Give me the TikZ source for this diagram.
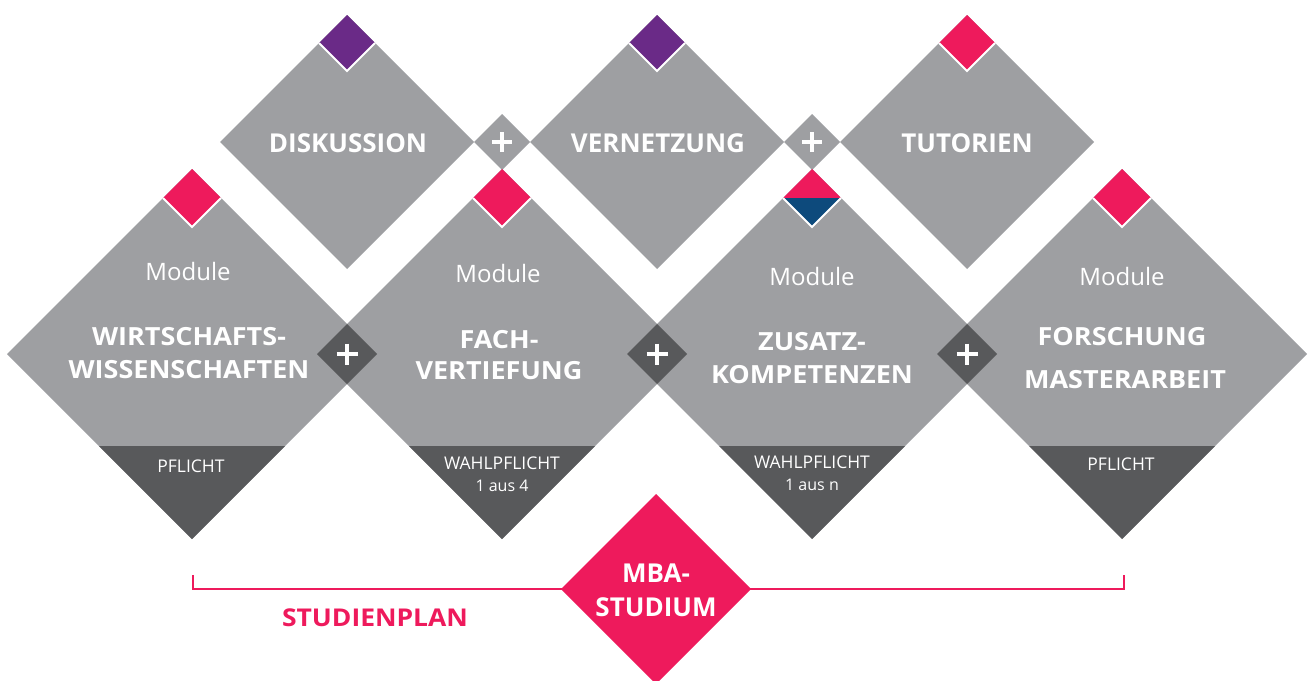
\documentclass[tikz,border=0pt]{standalone}
\usepackage{fontspec}
\setmainfont{Open Sans}
\newfontfamily\widesans[FakeStretch=1.08]{Open Sans}
\definecolor{dgray}{HTML}{9E9FA2}
\definecolor{ddark}{HTML}{58595B}
\definecolor{dpink}{HTML}{EE1A5C}
\definecolor{dpurple}{HTML}{6A2A87}
\definecolor{dblue}{HTML}{0D4A7C}
\tikzset{
  title/.style={text=white, font=\widesans\bfseries\fontsize{25}{25}\selectfont, anchor=base, inner sep=0pt},
  toptitle/.style={text=white, font=\bfseries\fontsize{26}{26}\selectfont, anchor=base, inner sep=0pt},
  modlabel/.style={text=white, font=\fontsize{24}{24}\selectfont, anchor=base, inner sep=0pt},
  kind/.style={text=white, font=\fontsize{17.5}{17.5}\selectfont, anchor=base, inner sep=0pt},
  kindsmall/.style={text=white, font=\fontsize{16}{16}\selectfont, anchor=base, inner sep=0pt},
  plussign/.style={white, line width=4.5pt},
  edgewhite/.style={white, line width=2pt},
  pinktext/.style={text=dpink, font=\widesans\bfseries\fontsize{24.5}{24.5}\selectfont, anchor=base, inner sep=0pt},
  mbatext/.style={text=white, font=\bfseries\fontsize{26}{26}\selectfont, anchor=base, inner sep=0pt},
}
\begin{document}
\begin{tikzpicture}[x=1pt,y=-1pt]
\useasboundingbox (0,0) rectangle (1308,680);
\clip (0,0) rectangle (1308,680);
% bottom row big diamonds
\foreach \c in {192,502,812,1122}{
  \fill[dgray] (\c-185,354) -- (\c,169) -- (\c+185,354) -- (\c,539) -- cycle;
  \fill[ddark] (\c-93,446) -- (\c+93,446) -- (\c,539) -- cycle;
}
% overlap plus diamonds
\foreach \c in {347,657,967}{
  \fill[ddark] (\c-30,354) -- (\c,324) -- (\c+30,354) -- (\c,384) -- cycle;
  \draw[plussign] (\c-10.5,354) -- (\c+10.5,354) (\c,343.5) -- (\c,364.5);
}
% top row diamonds
\foreach \c in {347,657,967}{
  \fill[dgray] (\c-127,142) -- (\c,15) -- (\c+127,142) -- (\c,269) -- cycle;
}
% top plus diamonds
\foreach \c in {502,812}{
  \fill[dgray] (\c-28,142) -- (\c,114) -- (\c+28,142) -- (\c,170) -- cycle;
  \draw[plussign] (\c-10,142) -- (\c+10,142) (\c,132) -- (\c,152);
}
% small diamonds on top row
\foreach \c/\col in {347/dpurple,657/dpurple,967/dpink}{
  \fill[\col] (\c-28,43) -- (\c,15) -- (\c+28,43) -- (\c,71) -- cycle;
  \draw[edgewhite] (\c-28,43) -- (\c,71) -- (\c+28,43);
}
% small diamonds on bottom row
\foreach \c in {192,502,1122}{
  \fill[dpink] (\c-29,198) -- (\c,169) -- (\c+29,198) -- (\c,227) -- cycle;
  \draw[edgewhite] (\c-29,198) -- (\c,227) -- (\c+29,198);
}
\fill[dpink] (812-29,198) -- (812,169) -- (812+29,198) -- cycle;
\fill[dblue] (812-29,198) -- (812+29,198) -- (812,227) -- cycle;
\draw[edgewhite] (812-29,198) -- (812,227) -- (812+29,198);
% top labels
\node[toptitle] (tdisk) at (348,152) {DISKUSSION};
\node[toptitle] (tvern) at (658,152) {VERNETZUNG};
\node[toptitle] (ttut) at (967,152) {TUTORIEN};
% bottom labels
\node[modlabel] (m1) at (188,280) {Module};
\node[title] (w1) at (189,345) {WIRTSCHAFTS-};
\node[title] (w2) at (189,378) {WISSENSCHAFTEN};
\node[kind] (k1) at (191,472) {PFLICHT};
\node[modlabel] (m2) at (498,282) {Module};
\node[title] (f1) at (499,348) {FACH-};
\node[title] (f2) at (499,379) {VERTIEFUNG};
\node[kind] (k2) at (502,469) {WAHLPFLICHT};
\node[kindsmall] (k2b) at (502,491) {1 aus 4};
\node[modlabel] (m3) at (812,285) {Module};
\node[title] (z1) at (812,350) {ZUSATZ-};
\node[title] (z2) at (812,383) {KOMPETENZEN};
\node[kind] (k3) at (812,468) {WAHLPFLICHT};
\node[kindsmall] (k3b) at (812,490) {1 aus n};
\node[modlabel] (m4) at (1122,285) {Module};
\node[title] (r1) at (1122,345) {FORSCHUNG};
\node[title] (r2) at (1125,388) {MASTERARBEIT};
\node[kind] (k4) at (1121,470) {PFLICHT};
% bracket and MBA diamond
\coordinate (bl) at (193,575);
\coordinate (br) at (1124,575);
\draw[dpink, line width=1.5pt] (bl) -- (193,589) -- (1124,589) -- (br);
\fill[dpink] (561,589) -- (656,494) -- (751,589) -- (656,684) -- cycle;
\node[mbatext] (mba1) at (656,582) {MBA-};
\node[mbatext] (mba2) at (656,616) {STUDIUM};
\node[pinktext] (plan) at (375,626) {STUDIENPLAN};
\end{tikzpicture}
\end{document}
